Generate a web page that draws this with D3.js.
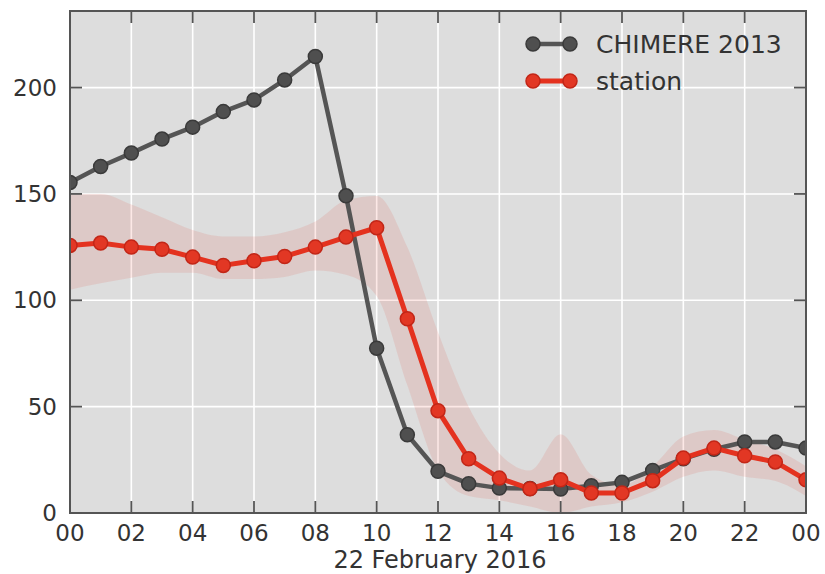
<!DOCTYPE html>
<html>
<head>
<meta charset="utf-8">
<script src="https://cdn.jsdelivr.net/npm/d3@7"></script>
<style>
  html, body { margin: 0; padding: 0; background: #ffffff; }
  svg { display: block; }
  text { font-family: "DejaVu Sans", sans-serif; fill: #333333; }
</style>
</head>
<body>
<svg id="chart" width="825" height="574"></svg>
<script>
// ---- data ----
const hours = [0,1,2,3,4,5,6,7,8,9,10,11,12,13,14,15,16,17,18,19,20,21,22,23,24];
const chimere = [155.4,162.9,169.2,175.8,181.4,188.7,194.2,203.6,214.6,149.1,77.5,36.8,19.6,13.8,11.7,11.5,11.3,12.8,14.4,20.0,25.5,30.0,33.4,33.4,30.5];
const station = [125.8,126.9,125.0,124.0,120.3,116.4,118.6,120.6,125.0,129.7,134.1,91.3,48.1,25.5,16.4,11.4,15.6,9.4,9.4,15.2,25.8,30.5,26.9,24.0,15.6];
const stationUpper = [150,150,145,139,133,130,130,132,137,147,149,125,85,50,28,20,37,18,13,22,36,39,34.5,30,22];
const stationLower = [105,108,110.6,113,113,110,110,111,114,112,102,60,20,8,6,3,0,3,5,10,17,20,17,15,8];
const xTickValues = [0,2,4,6,8,10,12,14,16,18,20,22,24];
const xTickLabels = ["00","02","04","06","08","10","12","14","16","18","20","22","00"];
const yTickValues = [0,50,100,150,200];
const seriesNames = ["CHIMERE 2013","station"];
const dateLabel = "22 February 2016";

// ---- layout ----
const svg = d3.select("#chart");
const L = 70, R = 806, T = 11, B = 513;
const x = d3.scaleLinear().domain([0,24]).range([L,R]);
const y = d3.scaleLinear().domain([0,236]).range([B,T]);

const grayLine = "#555555", grayMark = "#4f4f4f", grayEdge = "#3a3a3a";
const redLine = "#e4321f", redMark = "#e23724", redEdge = "#c22617";
const mr = 7;

svg.append("defs").append("clipPath").attr("id","plotclip")
  .append("rect").attr("x",L).attr("y",T).attr("width",R-L).attr("height",B-T);

// background
svg.append("rect").attr("x",L).attr("y",T).attr("width",R-L).attr("height",B-T).attr("fill","#dddddd");

// grid
const grid = svg.append("g");
grid.selectAll(".gx").data(xTickValues).enter().append("line")
  .attr("x1",d=>x(d)).attr("x2",d=>x(d)).attr("y1",T).attr("y2",B)
  .attr("stroke","#ffffff").attr("stroke-width",1.6);
grid.selectAll(".gy").data(yTickValues).enter().append("line")
  .attr("x1",L).attr("x2",R).attr("y1",d=>y(d)).attr("y2",d=>y(d))
  .attr("stroke","#ffffff").attr("stroke-width",1.6);

const plot = svg.append("g").attr("clip-path","url(#plotclip)");

// band
const area = d3.area().x((d,i)=>x(hours[i])).y0((d,i)=>y(stationLower[i])).y1((d,i)=>y(stationUpper[i])).curve(d3.curveMonotoneX);
plot.append("path").datum(hours).attr("d",area).attr("fill","#e3301f").attr("fill-opacity",0.11);

const line = d3.line().x((d,i)=>x(hours[i])).y(d=>y(d));

// chimere
plot.append("path").datum(chimere).attr("d",line).attr("fill","none")
  .attr("stroke",grayLine).attr("stroke-width",4.5).attr("stroke-linejoin","round");
plot.selectAll(".cm").data(chimere).enter().append("circle")
  .attr("cx",(d,i)=>x(hours[i])).attr("cy",d=>y(d)).attr("r",mr)
  .attr("fill",grayMark).attr("stroke",grayEdge).attr("stroke-width",1.5);

// station
plot.append("path").datum(station).attr("d",line).attr("fill","none")
  .attr("stroke",redLine).attr("stroke-width",5).attr("stroke-linejoin","round");
plot.selectAll(".sm").data(station).enter().append("circle")
  .attr("cx",(d,i)=>x(hours[i])).attr("cy",d=>y(d)).attr("r",mr)
  .attr("fill",redMark).attr("stroke",redEdge).attr("stroke-width",1.5);

// spines
svg.append("rect").attr("x",L).attr("y",T).attr("width",R-L).attr("height",B-T)
  .attr("fill","none").attr("stroke","#555555").attr("stroke-width",2);

// ticks (inward, all four sides)
const tk = 12;
const ticks = svg.append("g").attr("stroke","#555555").attr("stroke-width",1.8);
xTickValues.forEach(v=>{
  ticks.append("line").attr("x1",x(v)).attr("x2",x(v)).attr("y1",B).attr("y2",B-tk);
  ticks.append("line").attr("x1",x(v)).attr("x2",x(v)).attr("y1",T).attr("y2",T+tk);
});
yTickValues.forEach(v=>{
  ticks.append("line").attr("x1",L).attr("x2",L+tk).attr("y1",y(v)).attr("y2",y(v));
  ticks.append("line").attr("x1",R).attr("x2",R-tk).attr("y1",y(v)).attr("y2",y(v));
});

// tick labels
svg.selectAll(".xl").data(xTickValues).enter().append("text")
  .attr("x",d=>x(d)).attr("y",541).attr("text-anchor","middle")
  .attr("font-size",23).text((d,i)=>xTickLabels[i]);
svg.selectAll(".yl").data(yTickValues).enter().append("text")
  .attr("x",57).attr("y",d=>y(d)+8).attr("text-anchor","end")
  .attr("font-size",23).text(d=>d);

// x axis label
svg.append("text").attr("x",440).attr("y",568).attr("text-anchor","middle")
  .attr("font-size",24).text(dateLabel);

// legend
const lg = svg.append("g");
const legendRows = [
  {name: seriesNames[0], line: grayLine, mark: grayMark, edge: grayEdge, w: 4.5, yy: 44},
  {name: seriesNames[1], line: redLine, mark: redMark, edge: redEdge, w: 5, yy: 81}
];
legendRows.forEach(r=>{
  lg.append("line").attr("x1",533).attr("x2",570).attr("y1",r.yy).attr("y2",r.yy)
    .attr("stroke",r.line).attr("stroke-width",r.w);
  [533,570].forEach(cx=>lg.append("circle").attr("cx",cx).attr("cy",r.yy).attr("r",mr)
    .attr("fill",r.mark).attr("stroke",r.edge).attr("stroke-width",1.5));
  lg.append("text").attr("x",596).attr("y",r.yy+9).attr("font-size",25).text(r.name);
});
</script>
</body>
</html>
